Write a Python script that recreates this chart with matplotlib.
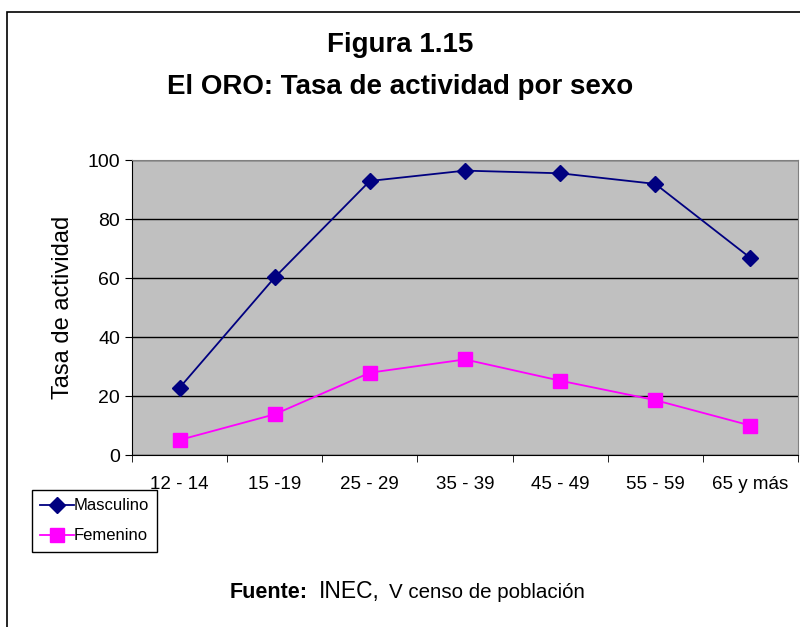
import numpy as np
import matplotlib.pyplot as plt
from matplotlib.patches import Rectangle

plt.rcParams['font.family'] = ['Liberation Sans', 'DejaVu Sans']

grupos = ["12 - 14", "15 -19", "25 - 29", "35 - 39", "45 - 49", "55 - 59", "65 y más"]
masculino = [22.8, 60.2, 92.9, 96.4, 95.5, 91.9, 66.8]
femenino = [5.1, 13.8, 27.9, 32.4, 25.2, 18.6, 10.0]

fig = plt.figure(figsize=(8, 6.27), dpi=100)
ax = fig.add_axes([0.165, 0.2743, 0.8325, 0.4705])

x = np.arange(len(grupos))
ax.set_facecolor('#C0C0C0')
ax.plot(x, masculino, color='#000080', marker='D', markersize=8.5, lw=1.3, label='Masculino')
ax.plot(x, femenino, color='#FF00FF', marker='s', markersize=10.5, lw=1.3, label='Femenino')

ax.set_xlim(-0.5, len(grupos) - 0.5)
ax.set_ylim(0, 100)
ax.set_yticks(range(0, 101, 20))
ax.yaxis.grid(True, color='black', lw=1)
ax.set_axisbelow(True)
ax.set_xticks(x)
ax.set_xticklabels(grupos)
ax.set_xticks(np.arange(-0.5, len(grupos)), minor=True)
ax.tick_params(axis='x', which='major', length=0, pad=15, labelsize=13.5)
ax.tick_params(axis='x', which='minor', length=5, direction='out')
ax.tick_params(axis='y', length=5, labelsize=14)
for s in ['top', 'right']:
    ax.spines[s].set_color('#808080')
ax.set_ylabel('Tasa de actividad', fontsize=17, labelpad=10)

fig.text(0.5, 0.928, 'Figura 1.15', ha='center', va='center', fontsize=20, fontweight='bold')
fig.text(0.5, 0.861, 'El ORO: Tasa de actividad por sexo', ha='center', va='center', fontsize=20, fontweight='bold')

leg = ax.legend(loc='upper left', bbox_to_anchor=(-0.150, -0.119), fontsize=12, frameon=True,
                fancybox=False, edgecolor='black', framealpha=1, borderpad=0.5,
                handlelength=2.0, handletextpad=0.0, labelspacing=0.9, borderaxespad=0)
leg.get_frame().set_linewidth(1)

fig.text(0.2875, 0.046, 'Fuente:', ha='left', va='baseline', fontsize=15.5, fontweight='bold')
fig.text(0.398, 0.046, 'INEC,', ha='left', va='baseline', fontsize=16.5)
fig.text(0.486, 0.046, 'V censo de población', ha='left', va='baseline', fontsize=14.8)

fig.add_artist(Rectangle((0.009, -0.2), 1.2, 1.181, transform=fig.transFigure,
                         fill=False, edgecolor='black', lw=1.2, clip_on=False))

fig.savefig('out.png', dpi=100)
